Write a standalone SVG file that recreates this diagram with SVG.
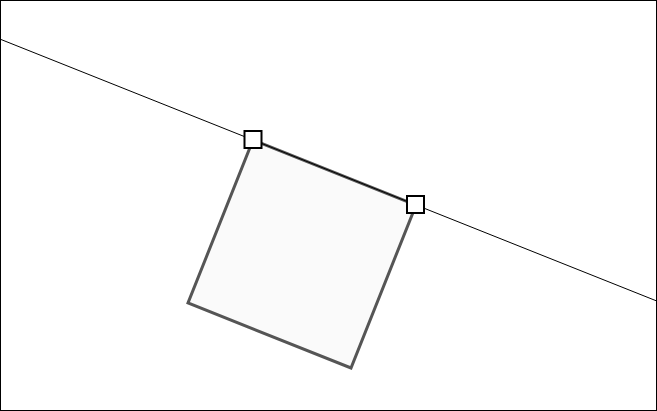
<svg xmlns="http://www.w3.org/2000/svg" width="657" height="411" viewBox="0 0 657 411">
<style>
.handle{fill:#ffffff;stroke:#000000;stroke-width:2}
.frame{fill:#ffffff;stroke:#000000;stroke-width:1}
.conn{stroke:#000000;stroke-width:1;fill:none}
.shape{fill:#fafafa;stroke:#555555;stroke-width:3;stroke-linejoin:miter}
</style>
<rect class="frame" x="0.5" y="0.5" width="656" height="410"/>
<g id="square">
<polygon class="shape" points="253,140 416,205 351,368 188,303"/>
</g>
<g id="connectors">
<line class="conn" x1="0" y1="39.1" x2="657" y2="301.1"/>
</g>
<g id="handle1">
<rect class="handle" x="244.5" y="131" width="17" height="17"/>
</g>
<g id="handle2">
<rect class="handle" x="407" y="196" width="17" height="17"/>
</g>
</svg>
